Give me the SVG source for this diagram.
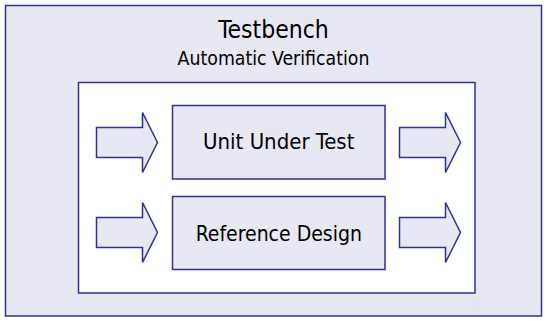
<svg xmlns="http://www.w3.org/2000/svg" width="547" height="322" viewBox="0 0 547 322">
  <style>
    .shape { fill: #e8e8f2; stroke: #2e3192; stroke-width: 1.5; }
    .frame { fill: #ffffff; stroke: #2e3192; stroke-width: 1.5; }
    .label { font-family: "DejaVu Sans Condensed", "DejaVu Sans", sans-serif; font-stretch: condensed; fill: #000000; text-anchor: middle; }
  </style>
  <defs>
    <!-- block arrow pointing right, origin at shaft top-left -->
    <path id="blockArrow" d="M0,0 H46 V-15 L61,15 L46,45 V30 H0 Z"/>
  </defs>

  <g id="testbench">
    <rect class="shape" x="5.5" y="5.5" width="536" height="310.5"/>
    <text class="label" x="273.5" y="37.5" font-size="24.5">Testbench</text>
    <text class="label" x="273.5" y="65" font-size="19.3">Automatic Verification</text>
  </g>

  <g id="verification-frame">
    <rect class="frame" x="78.5" y="82.5" width="396.5" height="210.5"/>
  </g>

  <g id="unit-under-test">
    <rect class="shape" x="172.5" y="105.5" width="212.5" height="73.5"/>
    <text class="label" x="278.75" y="149.3" font-size="22">Unit Under Test</text>
  </g>

  <g id="reference-design">
    <rect class="shape" x="172.5" y="196.5" width="212.5" height="73"/>
    <text class="label" x="278.75" y="241.3" font-size="21">Reference Design</text>
  </g>

  <g id="connectors">
    <use href="#blockArrow" class="shape" x="96.5" y="127.5"/>
    <use href="#blockArrow" class="shape" x="399.5" y="127.5"/>
    <use href="#blockArrow" class="shape" x="96.5" y="217.5"/>
    <use href="#blockArrow" class="shape" x="399.5" y="217.5"/>
  </g>
</svg>
